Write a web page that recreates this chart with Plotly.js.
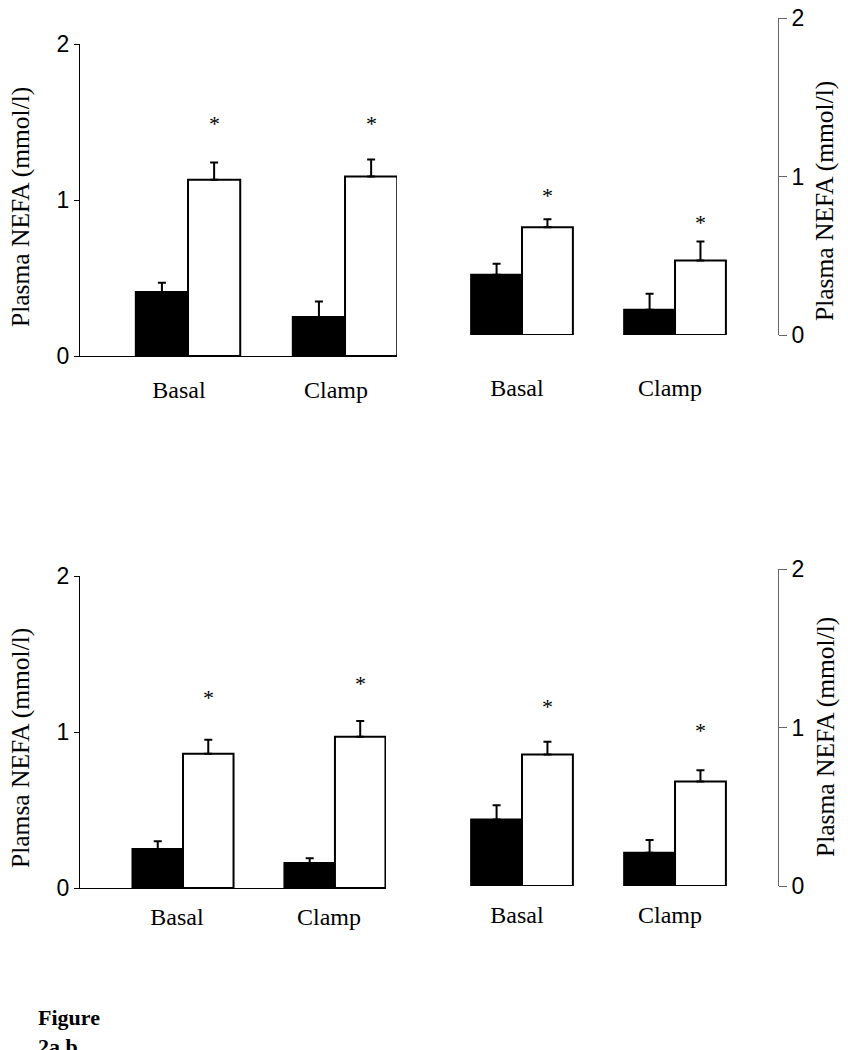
<!DOCTYPE html>
<html>
<head>
<meta charset="utf-8">
<script src="https://cdn.plot.ly/plotly-3.0.1.min.js"></script>
<style>
  html, body { margin: 0; padding: 0; background: #fff; }
  #fig { width: 848px; height: 1050px; }
</style>
</head>
<body>
<div id="fig"></div>
<script>
var categories = ["Basal", "Clamp"];
var yTickVals = [0, 1, 2];
var yTickText = ["0", "1", "2"];

// top left panel
var tlFilled = [0.41, 0.25];
var tlFilledErr = [0.06, 0.10];
var tlOpen = [1.13, 1.15];
var tlOpenErr = [0.11, 0.11];
var tlStars = [1.51, 1.51];

// top right panel
var trFilled = [0.38, 0.16];
var trFilledErr = [0.07, 0.10];
var trOpen = [0.68, 0.47];
var trOpenErr = [0.05, 0.12];
var trStars = [0.90, 0.73];

// bottom left panel
var blFilled = [0.25, 0.16];
var blFilledErr = [0.05, 0.03];
var blOpen = [0.86, 0.97];
var blOpenErr = [0.09, 0.10];
var blStars = [1.24, 1.33];

// bottom right panel
var brFilled = [0.42, 0.21];
var brFilledErr = [0.09, 0.08];
var brOpen = [0.83, 0.66];
var brOpenErr = [0.08, 0.07];
var brStars = [1.15, 1.00];

var yTitleTop = "Plasma NEFA (mmol/l)";
var yTitleBottom = "Plamsa NEFA (mmol/l)";
var caption = "<b>Figure<br>2a,b</b>";

var W = 848, H = 1050;
var SERIF = "'Liberation Serif', 'Times New Roman', serif";
var SANS = "'Liberation Sans', Arial, sans-serif";
var BAR_SHIFT = 0.1675;

function px(x) { return x / W; }
function py(y) { return 1 - y / H; }

// layout boxes in page pixels
var panels = [
  { filled: tlFilled, filledErr: tlFilledErr, open: tlOpen, openErr: tlOpenErr, stars: tlStars,
    title: yTitleTop, side: "left", xDom: [80, 397], yDom: [356, 44], xRange: [-0.688, 1.331],
    standoff: 12, shift: -9, titlePos: [20, 207] },
  { filled: trFilled, filledErr: trFilledErr, open: trOpen, openErr: trOpenErr, stars: trStars,
    title: yTitleTop, side: "right", xDom: [440, 778], yDom: [335, 18], xRange: [-0.536, 1.673],
    standoff: 36, shift: -5, titlePos: [825, 201] },
  { filled: blFilled, filledErr: blFilledErr, open: blOpen, openErr: blOpenErr, stars: blStars,
    title: yTitleBottom, side: "left", xDom: [80, 386], yDom: [888, 576], xRange: [-0.678, 1.336],
    standoff: 7, shift: -6, titlePos: [20, 748] },
  { filled: brFilled, filledErr: brFilledErr, open: brOpen, openErr: brOpenErr, stars: brStars,
    title: yTitleTop, side: "right", xDom: [440, 778], yDom: [886, 569], xRange: [-0.536, 1.673],
    standoff: 12, shift: -5, titlePos: [825, 737] }
];

var data = [];
var layout = {
  width: W,
  height: H,
  margin: { l: 0, r: 0, t: 0, b: 0 },
  paper_bgcolor: "#fff",
  plot_bgcolor: "rgba(0,0,0,0)",
  showlegend: false,
  barmode: "group",
  bargap: 0.335,
  bargroupgap: 0,
  font: { family: SANS, color: "#000", size: 20 },
  annotations: []
};

panels.forEach(function (p, i) {
  var s = i === 0 ? "" : String(i + 1);
  var xa = "x" + s, ya = "y" + s;
  var right = p.side === "right";

  data.push({
    type: "bar", x: categories, y: p.filled, xaxis: xa, yaxis: ya,
    marker: { color: "#000", line: { color: "#000", width: 2 } },
    error_y: { type: "data", symmetric: false, array: p.filledErr, arrayminus: [0, 0],
      color: "#000", thickness: 2, width: 4 },
    hoverinfo: "skip"
  });
  data.push({
    type: "bar", x: categories, y: p.open, xaxis: xa, yaxis: ya,
    marker: { color: "#fff", line: { color: "#000", width: 2 } },
    error_y: { type: "data", symmetric: false, array: p.openErr, arrayminus: [0, 0],
      color: "#000", thickness: 2, width: 4 },
    hoverinfo: "skip"
  });

  layout["xaxis" + s] = {
    domain: [px(p.xDom[0]), px(p.xDom[1])],
    anchor: ya,
    type: "category",
    range: p.xRange,
    showline: !right,
    linecolor: "#000",
    linewidth: 1,
    showgrid: false,
    zeroline: false,
    ticks: "",
    ticklabelstandoff: p.standoff,
    ticklabelshift: p.shift,
    tickfont: { family: SERIF, size: 24, color: "#000" },
    fixedrange: true
  };
  layout["yaxis" + s] = {
    domain: [py(p.yDom[0]), py(p.yDom[1])],
    anchor: xa,
    side: p.side,
    range: [0, 2],
    tickvals: yTickVals,
    ticktext: yTickText,
    showline: true,
    linecolor: right ? "#666" : "#000",
    linewidth: 1,
    ticks: "outside",
    ticklen: right ? 8 : 5,
    tickcolor: right ? "#666" : "#000",
    showgrid: false,
    zeroline: false,
    tickfont: { family: SANS, size: 23, color: "#000" },
    fixedrange: true
  };

  layout.annotations.push({
    xref: "paper", yref: "paper",
    x: px(p.titlePos[0]), y: py(p.titlePos[1]),
    text: p.title, textangle: -90, showarrow: false,
    xanchor: "center", yanchor: "middle",
    font: { family: SERIF, size: 25.5, color: "#000" }
  });

  p.stars.forEach(function (v, k) {
    layout.annotations.push({
      xref: xa, yref: ya,
      x: k + BAR_SHIFT, y: v,
      text: "*", showarrow: false,
      xanchor: "center", yanchor: "middle", yshift: -3,
      font: { family: SERIF, size: 22, color: "#000" }
    });
  });
});

layout.annotations.push({
  xref: "paper", yref: "paper",
  x: px(36), y: py(1003),
  text: caption, showarrow: false, align: "left",
  xanchor: "left", yanchor: "top",
  font: { family: SERIF, size: 22, color: "#000" }
});

Plotly.newPlot("fig", data, layout, { displayModeBar: false, staticPlot: true });
</script>
</body>
</html>
